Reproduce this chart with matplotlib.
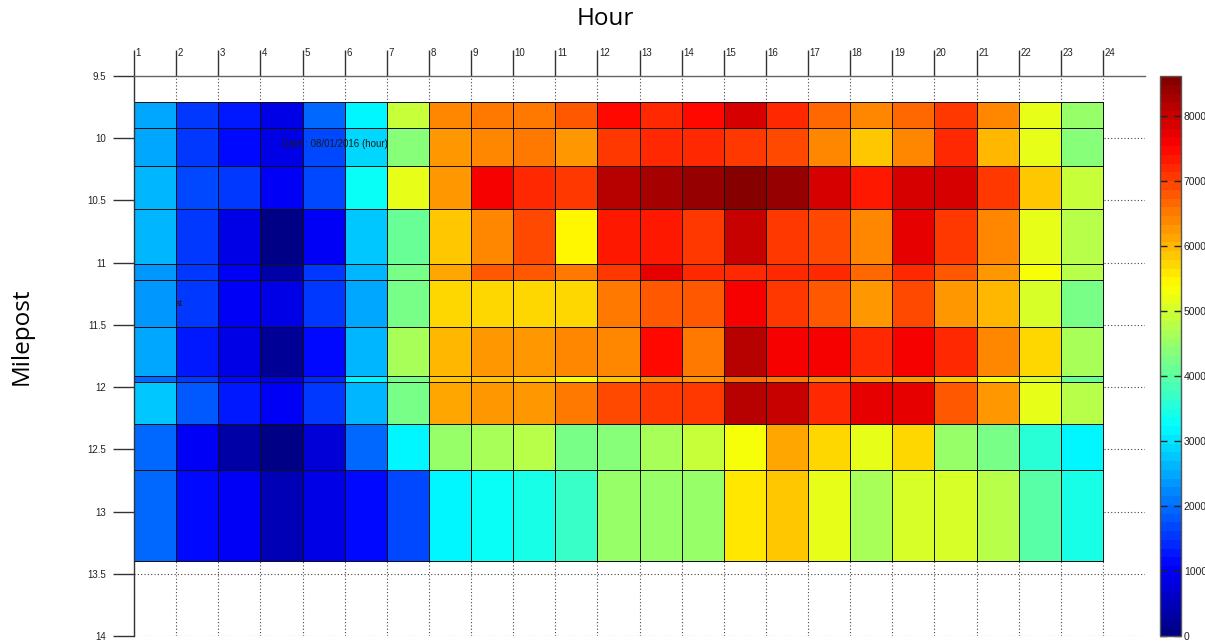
import numpy as np
import matplotlib
matplotlib.use("Agg")
import matplotlib.pyplot as plt
from matplotlib.colors import ListedColormap

# Hourly volume by milepost segment, 08/01/2016
hours = list(range(1, 25))                      # column edges (hour 1 .. 24)
milepost_edges = [9.705, 9.914, 10.227, 10.565, 11.011, 11.136,
                  11.515, 11.912, 11.957, 12.297, 12.667, 13.396]

seg_9705 = [2500, 1500, 1250, 900, 1900, 3100, 4850, 6350, 6550, 6550, 6800, 7400,
            7200, 7400, 7850, 7250, 6650, 6350, 6650, 7100, 6350, 5200, 4500]
seg_9914 = [2500, 1500, 1150, 850, 1700, 2850, 4400, 6200, 6450, 6550, 6250, 7100,
            7200, 7250, 7000, 6900, 6450, 5800, 6450, 7150, 6000, 5200, 4400]
seg_10227 = [2600, 1700, 1500, 1050, 1700, 3250, 5200, 6250, 7550, 7200, 7000, 8100,
             8250, 8350, 8600, 8350, 7850, 7350, 7850, 7850, 7000, 5800, 4950]
seg_10565 = [2600, 1500, 850, 100, 1050, 2750, 4100, 5800, 6450, 6900, 5500, 7350,
             7350, 7100, 7950, 7100, 6950, 6400, 7800, 7050, 6450, 5200, 4750]
seg_11011 = [2400, 1600, 1050, 400, 1500, 2600, 4300, 6150, 6850, 6800, 6550, 7000,
             7800, 7150, 7200, 7150, 7250, 6650, 7150, 6750, 6250, 5350, 4750]
seg_11136 = [2300, 1500, 1050, 900, 1500, 2500, 4300, 5750, 5750, 5750, 5750, 6500,
             6800, 6800, 7550, 7100, 6800, 6200, 6900, 6200, 6000, 5000, 4300]
seg_11515 = [2500, 1250, 850, 200, 1150, 2600, 4600, 5950, 6200, 6200, 6450, 6450,
             7400, 6550, 8100, 7550, 7550, 7250, 7550, 7250, 6350, 5700, 4700]
seg_11912 = [2000, 1500, 1100, 900, 1400, 3200, 4300, 5800, 5800, 5700, 5350, 5800,
             6350, 6250, 6650, 6550, 6350, 6300, 6250, 5800, 5250, 5050, 4100]
seg_11957 = [2750, 1800, 1250, 1050, 1500, 2600, 4300, 6100, 6200, 6200, 6550, 6950,
             7100, 7100, 8100, 7950, 7250, 7700, 7700, 6850, 6250, 5200, 4750]
seg_12297 = [1900, 1050, 300, 100, 800, 1900, 3100, 4450, 4600, 4750, 4300, 4400,
             4600, 4950, 5350, 6100, 5700, 5200, 5700, 4450, 4200, 3500, 3100]
seg_12667 = [1950, 1150, 950, 500, 850, 1150, 1700, 3100, 3250, 3400, 3700, 4450,
             4500, 4450, 5550, 5800, 5200, 4700, 5000, 5000, 4750, 4000, 3400]

y_ticks = [9.5, 10, 10.5, 11, 11.5, 12, 12.5, 13, 13.5, 14]
y_ticklabels = ["9.5", "10", "10.5", "11", "11.5", "12", "12.5", "13", "13.5", "14"]
cbar_ticks = [0, 1000, 2000, 3000, 4000, 5000, 6000, 7000, 8000]
v_max = 8610

volume = np.array([seg_9705, seg_9914, seg_10227, seg_10565, seg_11011, seg_11136,
                   seg_11515, seg_11912, seg_11957, seg_12297, seg_12667], dtype=float)

tick_font = "Liberation Sans"
title_font = "Open Sans"

# 64-step jet palette (symmetric piecewise-linear definition)
f = (np.arange(64) + 0.5) / 64
jet_r = np.clip(np.minimum(4 * f - 1.5, -4 * f + 4.5), 0, 1)
jet_g = np.clip(np.minimum(4 * f - 0.5, -4 * f + 3.5), 0, 1)
jet_b = np.clip(np.minimum(4 * f + 0.5, -4 * f + 2.5), 0, 1)
cmap = ListedColormap(np.column_stack([jet_r, jet_g, jet_b]))

fig = plt.figure(figsize=(12.05, 6.41), dpi=100)
ax = fig.add_axes([134 / 1205, 1 - 636 / 641, (1145 - 134) / 1205, (636 - 76) / 641])

mesh = ax.pcolormesh(hours, milepost_edges, volume, cmap=cmap, vmin=0, vmax=v_max,
                     edgecolors="#111111", linewidth=0.65, zorder=1)

ax.set_xlim(1, 25)
ax.set_ylim(14, 9.5)

# dotted grid behind the cells
ax.set_axisbelow(True)
ax.set_xticks(hours)
ax.set_yticks(y_ticks)
ax.grid(True, linestyle=(0, (1.0, 2.0)), color="#444444", linewidth=0.8)

# top hour ticks, labels sit beside the upper end of each tick
ax.xaxis.tick_top()
ax.tick_params(axis="x", direction="out", length=19, width=1.0, color="#333333",
               labeltop=False, labelbottom=False)
for h in hours:
    ax.annotate(str(h), xy=(h, 1.0), xycoords=("data", "axes fraction"),
                xytext=(1.2, 16.5), textcoords="offset points",
                ha="left", va="center", fontsize=7, family=tick_font, color="#222222")

ax.set_yticklabels(y_ticklabels, family=tick_font, fontsize=7, color="#222222")
ax.tick_params(axis="y", direction="out", length=15, width=1.0, color="#333333", pad=5)

for side in ["right", "bottom"]:
    ax.spines[side].set_visible(False)
ax.spines["left"].set_color("#333333")
ax.spines["left"].set_linewidth(1.0)
ax.spines["top"].set_color("#666666")
ax.spines["top"].set_linewidth(1.0)

ax.text(4.51, 10.047, "Date : 08/01/2016 (hour)", ha="left", va="center",
        fontsize=7, family=tick_font, color="#1a1a1a", zorder=3)
ax.text(2.0, 11.33, "st", ha="left", va="center", fontsize=6.5,
        family=tick_font, color="#1a1a1a", zorder=3)

fig.text(605 / 1205, 1 - 19 / 641, "Hour", ha="center", va="center",
         fontsize=17.5, family=title_font)
fig.text(22 / 1205, 1 - 336 / 641, "Milepost", ha="center", va="center",
         fontsize=17.5, family=title_font, rotation=90)

# colour bar
cax = fig.add_axes([1160 / 1205, 1 - 636 / 641, 21 / 1205, (636 - 76) / 641])
cb = fig.colorbar(mesh, cax=cax, ticks=cbar_ticks)
cb.outline.set_edgecolor("#555555")
cb.outline.set_linewidth(1.0)
cax.tick_params(direction="in", length=5, width=1.0, color="#222222",
                left=True, right=True, labelsize=7.5, pad=2)
for lbl in cax.get_yticklabels():
    lbl.set_family(tick_font)
    lbl.set_color("#222222")

fig.savefig("out.png", dpi=100)
